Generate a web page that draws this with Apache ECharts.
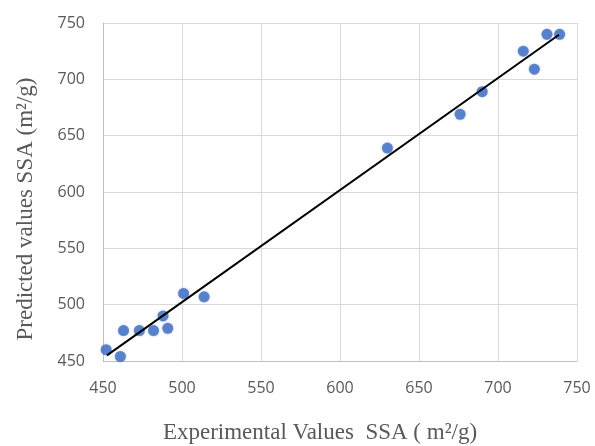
<!DOCTYPE html>
<html><head><meta charset="utf-8">
<script src="https://cdn.jsdelivr.net/npm/echarts@6/dist/echarts.min.js"></script>
<style>html,body{margin:0;padding:0;background:#fff}#c{width:595px;height:446px}</style>
</head><body><div id="c"></div>
<script>
const experimental = [452, 461, 463, 473, 482, 491, 488, 501, 514, 630, 676, 690, 716, 723, 731, 739];
const predicted    = [460, 454, 477, 477, 477, 479, 490, 510, 507, 639, 669, 689, 725, 709, 740, 740];
const fitX = [452.5, 738.6];
const fitY = [455, 739.6];
const xTitle = 'Experimental Values  SSA ( m\u00B2/g)';
const yTitle = 'Predicted values SSA (m\u00B2/g)';

const chart = echarts.init(document.getElementById('c'));
chart.setOption({
  animation: false,
  grid: {left: 103, right: 18, top: 23, bottom: 85},
  xAxis: {
    type: 'value', min: 450, max: 750, interval: 50,
    axisLine: {show: true, lineStyle: {color: '#bfbfbf', width: 1}},
    axisTick: {show: false},
    axisLabel: {color: '#595959', fontSize: 16, fontFamily: 'Open Sans', margin: 19},
    splitLine: {show: true, lineStyle: {color: '#d9d9d9', width: 1}}
  },
  yAxis: {
    type: 'value', min: 450, max: 750, interval: 50,
    axisLine: {show: true, lineStyle: {color: '#bfbfbf', width: 1}},
    axisTick: {show: false},
    axisLabel: {color: '#595959', fontSize: 16, fontFamily: 'Open Sans', margin: 18},
    splitLine: {show: true, lineStyle: {color: '#d9d9d9', width: 1}}
  },
  graphic: [
    {type: 'text', x: 320, y: 433, style: {text: xTitle, font: '23px "Liberation Serif"', fill: '#595959', align: 'center', verticalAlign: 'middle'}},
    {type: 'text', x: 26, y: 209, rotation: Math.PI / 2, style: {text: yTitle, font: '23px "Liberation Serif"', fill: '#595959', align: 'center', verticalAlign: 'middle'}}
  ],
  series: [
    {
      type: 'scatter',
      data: experimental.map((x, i) => [x, predicted[i]]),
      symbolSize: 11,
      itemStyle: {color: '#4472C4', shadowBlur: 2, shadowColor: 'rgba(68,114,196,0.6)'},
      z: 3
    },
    {
      type: 'line',
      data: fitX.map((x, i) => [x, fitY[i]]),
      showSymbol: false,
      lineStyle: {color: '#000', width: 2},
      z: 4
    }
  ]
});
</script></body></html>
